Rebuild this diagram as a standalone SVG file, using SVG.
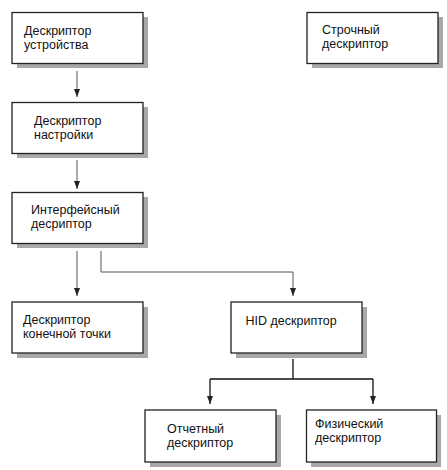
<svg xmlns="http://www.w3.org/2000/svg" width="447" height="470" viewBox="0 0 447 470">
<style>
.box{fill:#fff;stroke:#222;stroke-width:1.3}
.sh{fill:#a8a8a8}
.t{font-family:"Liberation Sans",Arial,sans-serif;font-size:12.5px;fill:#111}
.c{fill:none;stroke:#555;stroke-width:1}
.cd{fill:none;stroke:#111;stroke-width:1.3}
</style>
<defs>
<marker id="ah" viewBox="0 0 6 8" refX="3" refY="8" markerWidth="6" markerHeight="8" markerUnits="userSpaceOnUse" orient="auto-start-reverse">
<path d="M0,0 L6,0 L3,8 Z" fill="#222" transform="rotate(-90 3 4)"/>
</marker>
<marker id="a" viewBox="0 0 8 6" refX="8" refY="3" markerWidth="8" markerHeight="6" markerUnits="userSpaceOnUse" orient="auto">
<path d="M0,0 L8,3 L0,6 Z" fill="#222"/>
</marker>
</defs>
<rect width="447" height="470" fill="#fff"/>
<g id="connectors">
<path class="c" d="M77,71 V97" marker-end="url(#a)"/>
<path class="c" d="M77,160 V189" marker-end="url(#a)"/>
<path class="c" d="M77,251 V296" marker-end="url(#a)"/>
<path class="c" d="M101,251 V272 H293 V296" marker-end="url(#a)"/>
<path class="cd" d="M293,359 V379 M210,379 H373"/>
<path class="cd" d="M210,379 V404" marker-end="url(#a)"/>
<path class="cd" d="M373,379 V404" marker-end="url(#a)"/>
</g>
<g id="device">
<rect class="sh" x="17" y="17" width="131" height="51"/>
<rect class="box" x="12" y="12.5" width="131" height="51"/>
<text class="t" x="24" y="35">Дескриптор</text>
<text class="t" x="24" y="49">устройства</text>
</g>
<g id="string">
<rect class="sh" x="312" y="17" width="131" height="51"/>
<rect class="box" x="307" y="12.5" width="131" height="51"/>
<text class="t" x="322" y="33.5">Строчный</text>
<text class="t" x="322" y="47.5">дескриптор</text>
</g>
<g id="config">
<rect class="sh" x="17" y="107" width="131" height="51"/>
<rect class="box" x="12" y="102.5" width="131" height="51"/>
<text class="t" x="34" y="124.5">Дескриптор</text>
<text class="t" x="34" y="138.5">настройки</text>
</g>
<g id="interface">
<rect class="sh" x="17" y="197" width="131" height="51"/>
<rect class="box" x="12" y="192.5" width="131" height="51"/>
<text class="t" x="31" y="213.5">Интерфейсный</text>
<text class="t" x="31" y="228">десриптор</text>
</g>
<g id="endpoint">
<rect class="sh" x="17" y="307" width="131" height="51"/>
<rect class="box" x="12" y="302" width="131" height="51"/>
<text class="t" x="23" y="324">Дескриптор</text>
<text class="t" x="23" y="338">конечной точки</text>
</g>
<g id="hid">
<rect class="sh" x="236" y="307" width="131" height="51"/>
<rect class="box" x="231" y="302" width="131" height="51"/>
<text class="t" x="245.5" y="325">HID дескриптор</text>
</g>
<g id="report">
<rect class="sh" x="150" y="415" width="131" height="52"/>
<rect class="box" x="145" y="410" width="131" height="52"/>
<text class="t" x="167" y="433">Отчетный</text>
<text class="t" x="167" y="447">дескриптор</text>
</g>
<g id="physical">
<rect class="sh" x="311" y="415" width="130" height="52"/>
<rect class="box" x="306.5" y="410" width="130" height="52"/>
<text class="t" x="315" y="427.5">Физический</text>
<text class="t" x="315" y="442">дескриптор</text>
</g>
</svg>
